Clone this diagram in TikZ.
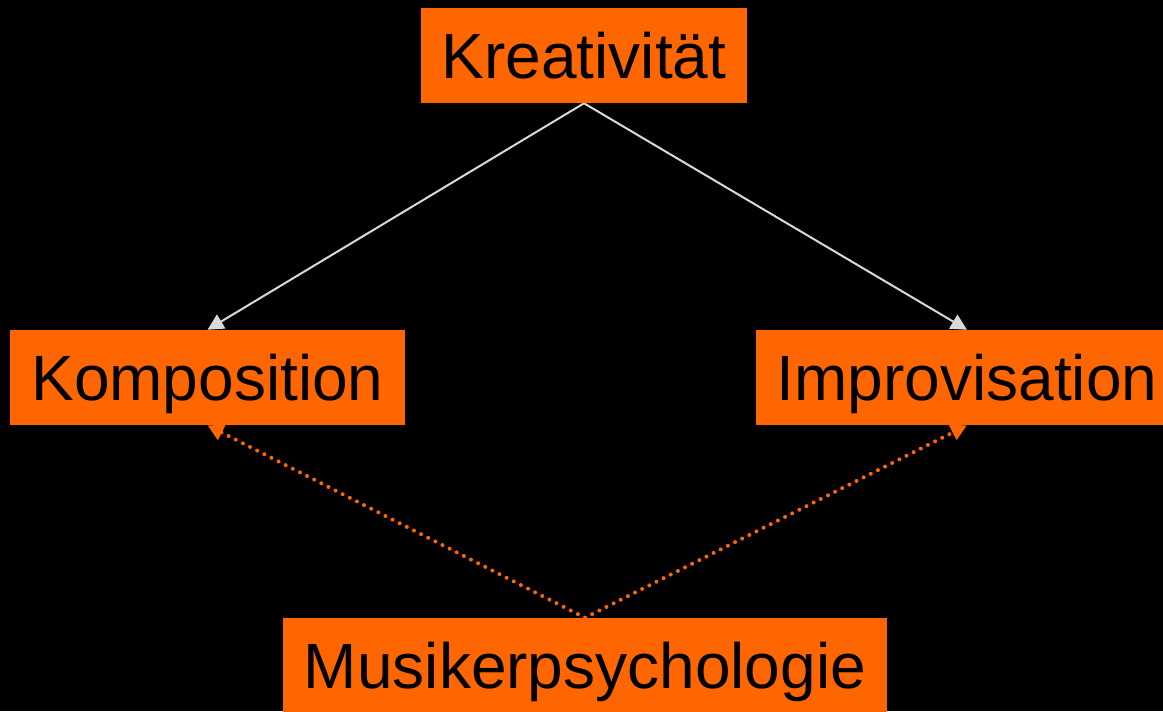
\documentclass[tikz,border=0pt]{standalone}
\usepackage{fontspec}
\setmainfont{Liberation Sans}
\usetikzlibrary{arrows.meta,backgrounds}
\definecolor{boxorange}{HTML}{FF6600}
\definecolor{linegray}{HTML}{D9D9D9}

\begin{document}
\begin{tikzpicture}[
    x = 0.75pt, y = -0.75pt,
    box/.style = {fill=boxorange, inner xsep=15.75pt, inner ysep=0pt,
      minimum height=71.25pt, text height=46.4pt, text depth=12pt,
      font=\fontsize{48}{58}\selectfont},
    link/.style = {draw=linegray, line width=1.5pt,
      -{Triangle[length=12pt,width=12pt]}},
    hint/.style = {draw=boxorange, line width=3pt, line cap=round,
      dash pattern=on 0pt off 6pt, -{Triangle[length=12pt,width=12pt]}},
  ]
  \useasboundingbox (0,0) rectangle (1163,711);
  \node[box] (krea) at (584,55.5) {Kreativität};
  \node[box] (komp) at (207.5,377.5) {Komposition};
  \node[box] (impro) at (967,377.5) {Improvisation};
  \node[box] (musik) at (585,665.5) {Musikerpsychologie};
  % connectors go under the boxes
  \begin{scope}[on background layer]
    \fill[black] (0,0) rectangle (1163,711);
    \draw[link] (krea.south) -- (komp.north);
    \draw[link] (krea.south) -- (impro.north);
    \draw[hint] (musik.north) -- (komp.south);
    \draw[hint] (musik.north) -- (impro.south);
  \end{scope}
\end{tikzpicture}
\end{document}
